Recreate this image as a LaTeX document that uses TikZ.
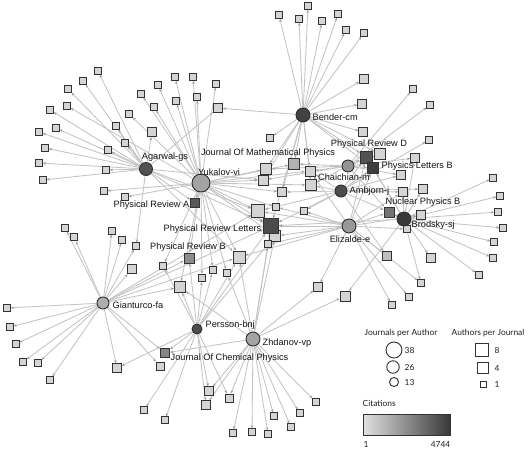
\documentclass[tikz,border=0pt]{standalone}
\usepackage{fontspec}
\newfontfamily\labfont{Liberation Sans}
\newfontfamily\legfont{Lato}
\usetikzlibrary{arrows.meta}
\pgfdeclarelayer{bgfill}
\pgfdeclarelayer{edges}
\pgfsetlayers{bgfill,edges,main}
\definecolor{edgec}{HTML}{C4C4C4}
\definecolor{jfill}{HTML}{D4D4D4}
\begin{document}
\begin{tikzpicture}[x=1pt,y=-1pt,
 js/.style={rectangle,draw=black!80,line width=0.95pt,inner sep=0pt,minimum size=#1,fill=jfill},
 js/.default=6.3pt,
 au/.style={circle,draw=black!82,line width=0.9pt,inner sep=0pt,minimum size=#1},
 edge/.style={draw=edgec,line width=0.85pt,-{Stealth[length=3.2pt,width=2.6pt,color=black!38]}},
 lab/.style={font=\labfont\fontsize{9.2}{10}\selectfont,text=black!92,inner sep=0.5pt},
 leg/.style={font=\legfont\fontsize{8.4}{9}\selectfont,text=black!88,inner sep=0.5pt}]
\begin{pgfonlayer}{bgfill}
\fill[white] (0,0) rectangle (532,451);
\end{pgfonlayer}
\useasboundingbox (0,0) rectangle (532,451);
% ---------- journals: small fans ----------
\foreach \n/\x/\y in {a1/98/71,a2/83/81,a3/68/89,a4/50/110,a5/67/106,a6/39/132,a7/56/128,a8/45/148,a9/39/163,a10/43/180,a11/106/170,a12/108/150,a13/116/126,a14/125/143,a15/129/114,a16/104/191,a17/125/197,
 y1/141/94,y2/154/107,y3/158/85,y4/175/77,y5/193/77,y6/176/101,y7/197/97,y8/216/84,
 b1/279/15,b2/308/6,b3/299/19,b4/322/21,b5/338/14,b6/346/30,b7/364/33,b11/413/89,b12/430/105,b13/429/140,b14/270/138,
 r1/493/178,r2/500/196,r3/498/212,r4/503/228,r5/494/242,r6/493/258,r7/479/275,
 e2/421/283,e3/409/297,e4/392/305,
 g1/65/228,g3/112/231,g4/122/240,g5/136/246,
 f1/7/308,f2/10/327,f3/16/344,f4/23/362,f5/38/363,f6/50/380,
 p1/144/410,p2/165/420,
 z1/233/433,z2/252/432,z3/268/434,z4/274/416,z5/291/427,z6/300/413,z7/316/402}
 {\node[js] (\n) at (\x,\y) {};}
% ---------- journals: medium / large ----------
\foreach \n/\x/\y/\s in {y9/152/132/9pt,y10/218/108/9pt,b8/364/79/9pt,b9/362/104/8.5pt,b10/363/132/8.5pt,
 c1/266/169/11pt,c2/263/180/10pt,c4/310/171/10pt,c5/311/185/11pt,c6/282/192/9pt,c7/276/207/6.5pt,c8/304/211/6.5pt,
 c9/258/211/13pt,c10/275/236/11pt,c11/268/244/6.5pt,c12/239/257/12pt,c13/380/154/11pt,c14/415/158/9pt,c15/401/175/9pt,
 c16/403/192/8.5pt,c17/423/189/9pt,c18/421/215/9pt,c19/407/229/7pt,
 r8/431/258/8.5pt,e5/318/287/8.5pt,e6/345/296/10pt,
 g2/74/237/7.5pt,g6/132/269/9.5pt,g7/163/266/7.5pt,g8/180/287/11pt,g9/202/278/7.5pt,g10/213/270/7.5pt,g11/227/273/7.5pt,
 f7/117/368/8.5pt,f8/160/366/8pt,p3/209/391/8.5pt,p4/229/398/8pt,p5/206/405/8.5pt}
 {\node[js=\s] (\n) at (\x,\y) {};}
\node[js=11pt,fill=black!30] (c3) at (294,164) {};
\node[js=9pt,fill=black!25] (e1) at (387,256) {};
\node[js=9pt,fill=black!65] (PRA) at (195,203) {};
\node[js=10pt,fill=black!45] (PRB) at (189,258) {};
\node[js=15pt,fill=black!70] (PRL) at (271,226) {};
\node[js=12pt,fill=black!68] (PRD) at (366,157) {};
\node[js=11pt,fill=black!76] (PLB) at (373,168) {};
\node[js=10pt,fill=black!55] (NPB) at (389,212) {};
\node[js=9.5pt,fill=black!48] (JCP) at (165,353) {};
% ---------- authors ----------
\node[au=14pt,fill=black!74] (be) at (303,115) {};
\node[au=13pt,fill=black!68] (ag) at (146,169) {};
\node[au=18pt,fill=black!36] (yu) at (201,183) {};
\node[au=12pt,fill=black!42] (ch) at (348,166) {};
\node[au=12pt,fill=black!70] (am) at (341,191) {};
\node[au=14pt,fill=black!40] (el) at (349,226) {};
\node[au=14pt,fill=black!78] (br) at (404,219) {};
\node[au=12pt,fill=black!32] (gi) at (103,303) {};
\node[au=10pt,fill=black!70] (pe) at (197,329) {};
\node[au=14pt,fill=black!36] (zh) at (253,339) {};
% ---------- edges ----------
\begin{pgfonlayer}{edges}
\foreach \t in {a1,a2,a3,a4,a6,a7,a8,a9,a10,a11,a12,a13,a14,y9,y10,PRA,PRL,c9,c2,c12,g5}
 \draw[edge] (ag) -- (\t);
\foreach \t in {a5,a15,a16,a17,y1,y2,y3,y4,y5,y6,y7,y8,PRA,c1,c2,c3,c6,c7,c9,PRL,c12,PRB,g8,g9,g10,g11,g7,c10,c5,c4}
 \draw[edge] (yu) -- (\t);
\foreach \t in {b1,b2,b3,b4,b5,b6,b7,b8,b9,b10,b14,y10,c1,c3,c4,c5,PRD,c13,PLB,PRL,c2,c6}
 \draw[edge] (be) -- (\t);
\foreach \t in {b11,b12,PRD,c13,PLB,c14,c1,c3,c4,c5,c15,NPB,c2}
 \draw[edge] (ch) -- (\t);
\foreach \t in {b13,PLB,PRD,c15,c16,c17,NPB,c5,c6,c8,PRL,c9,c4,e1}
 \draw[edge] (am) -- (\t);
\foreach \t in {e1,e2,e3,e4,e5,c18,c19,NPB,PRL,c10,c11,c12,PRD,PLB,c16,c4,c7,c8,c9}
 \draw[edge] (el) -- (\t);
\foreach \t in {r1,r2,r3,r4,r5,r6,r7,r8,c14,c17,c18,c19,NPB,PLB,PRD,c16,PRL,e2,e6}
 \draw[edge] (br) -- (\t);
\foreach \t in {f1,f2,f3,f4,f5,f6,f7,f8,g1,g2,g3,g4,g5,g6,PRL,c12,g8,PRB,JCP,c9}
 \draw[edge] (gi) -- (\t);
\foreach \t in {p1,p2,p3,p4,p5,JCP,f7,g8,PRB,c12,g7,PRL,g9,g10,c10}
 \draw[edge] (pe) -- (\t);
\foreach \t in {z1,z2,z3,z4,z5,z6,z7,p3,p4,p5,e5,e6,JCP,PRL,c12,g11,g8,c10,c11}
 \draw[edge] (zh) -- (\t);
\end{pgfonlayer}
% ---------- labels ----------
\node[lab,anchor=west] (lbe) at (312,117) {Bender-cm};
\node[lab] (lag) at (165,157) {Agarwal-gs};
\node[lab] (lyu) at (219,172) {Yukalov-vi};
\node[lab] (ljmp) at (268,153) {Journal Of Mathematical Physics};
\node[lab] (lprd) at (369,144) {Physical Review D};
\node[lab,anchor=west] (lplb) at (381,166) {Physics Letters B};
\node[lab] (lch) at (344,177) {Chaichian-m};
\node[lab,anchor=west] (lam) at (349,191) {Ambjorn-j};
\node[lab] (lnpb) at (423,202) {Nuclear Physics B};
\node[lab,anchor=west] (lbr) at (411,225) {Brodsky-sj};
\node[lab] (lel) at (350,239) {Elizalde-e};
\node[lab,anchor=east] (lpra) at (190,205) {Physical Review A};
\node[lab,anchor=east] (lprl) at (262,229) {Physical Review Letters};
\node[lab] (lprb) at (188,247) {Physical Review B};
\node[lab,anchor=west] (lgi) at (112,305) {Gianturco-fa};
\node[lab,anchor=west] (lpe) at (205,325) {Persson-bnj};
\node[lab,anchor=west] (lzh) at (262,343) {Zhdanov-vp};
\node[lab,anchor=west] (ljcp) at (170,358) {Journal Of Chemical Physics};
% ---------- legend ----------
\node[leg] (legA) at (401,333) {Journals per Author};
\node[leg] (legB) at (488,333) {Authors per Journal};
\node[au=16pt,fill=white] (lc1) at (394,350) {};
\node[au=12.5pt,fill=white] (lc2) at (393,367) {};
\node[au=9pt,fill=white] (lc3) at (394,382) {};
\node[leg,anchor=west] (ln1) at (404,350) {38};
\node[leg,anchor=west] (ln2) at (404,367) {26};
\node[leg,anchor=west] (ln3) at (404,382) {13};
\node[js=13.5pt,fill=white] (ls1) at (482,350) {};
\node[js=11pt,fill=white] (ls2) at (483,368) {};
\node[js=6pt,fill=white] (ls3) at (483,384) {};
\node[leg,anchor=west] (lm1) at (494,350) {8};
\node[leg,anchor=west] (lm2) at (494,368) {4};
\node[leg,anchor=west] (lm3) at (494,384) {1};
\node[leg,anchor=west] (lcit) at (362,403) {Citations};
\shade[left color=black!12,right color=black!78] (363,414) rectangle (450,435);
\draw[black!80,line width=0.8pt] (363,414) rectangle (450,435);
\node[leg,anchor=west] (lg1) at (363,444) {1};
\node[leg,anchor=east] (lg2) at (451,444) {4744};
\end{tikzpicture}
\end{document}
